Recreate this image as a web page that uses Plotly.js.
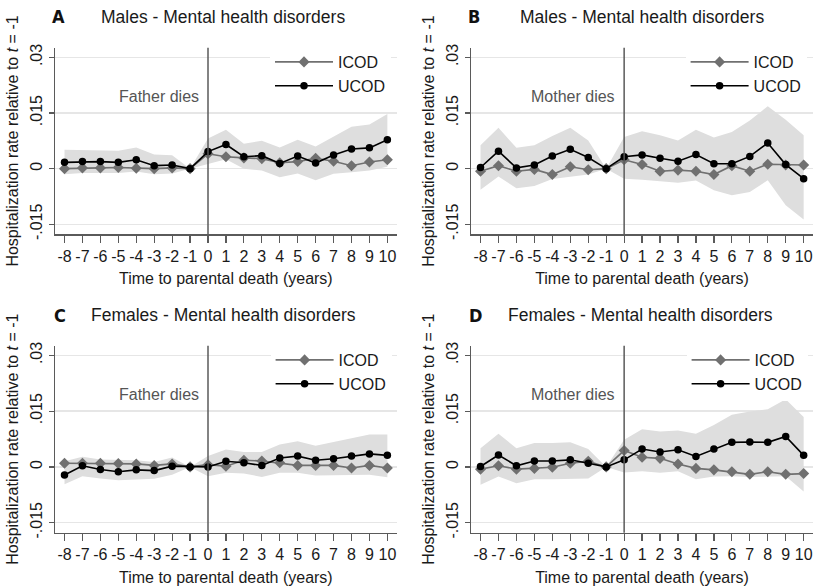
<!DOCTYPE html>
<html>
<head>
<meta charset="utf-8">
<script src="https://cdn.plot.ly/plotly-3.0.1.min.js"></script>
<style>html,body{margin:0;padding:0;background:#fff;}#chart{width:813px;height:588px;}</style>
</head>
<body>
<div id="chart"></div>
<script>
// ---- data ----
const t = [-8,-7,-6,-5,-4,-3,-2,-1,0,1,2,3,4,5,6,7,8,9,10];
const tickLabelsX = ['-8','-7','-6','-5','-4','-3','-2','-1','0','1','2','3','4','5','6','7','8','9','10'];
const tickValsY = [-0.015, 0, 0.015, 0.03];
const tickLabelsY = ['-.015', '0', '.015', '.03'];

const panelLetters = ['A','B','C','D'];
const panelTitles = ['Males - Mental health disorders','Males - Mental health disorders','Females - Mental health disorders','Females - Mental health disorders'];
const eventLabels = ['Father dies','Mother dies','Father dies','Mother dies'];
const seriesNames = ['ICOD','UCOD'];

// Panel A: males, father dies
const A_icod = [0.0000,0.0002,0.0002,0.0003,0.0001,0.0000,0.0002,0,0.0040,0.0032,0.0029,0.0027,0.0016,0.0019,0.0028,0.0020,0.0008,0.0018,0.0024];
const A_ucod = [0.0017,0.0019,0.0019,0.0017,0.0024,0.0008,0.0010,0,0.0046,0.0065,0.0032,0.0035,0.0014,0.0034,0.0015,0.0037,0.0053,0.0056,0.0078];
const A_lo   = [-0.0015,-0.0012,-0.0012,-0.0012,-0.0008,-0.0015,-0.0013,0,0.0013,0.0025,0.0000,-0.0005,-0.0023,-0.0013,-0.0031,-0.0014,-0.0010,-0.0005,0.0005];
const A_hi   = [0.0051,0.0050,0.0049,0.0048,0.0057,0.0038,0.0036,0,0.0081,0.0105,0.0067,0.0075,0.0057,0.0078,0.0060,0.0087,0.0113,0.0119,0.0147];

// Panel B: males, mother dies
const B_icod = [-0.0007,0.0008,-0.0007,-0.0002,-0.0016,0.0005,-0.0003,0,0.0024,0.0011,-0.0007,-0.0004,-0.0007,-0.0016,0.0008,-0.0007,0.0012,0.0010,0.0010];
const B_ucod = [0.0003,0.0047,0.0002,0.0010,0.0034,0.0052,0.0030,0,0.0032,0.0037,0.0028,0.0020,0.0038,0.0013,0.0013,0.0033,0.0069,0.0011,-0.0027];
const B_lo   = [-0.0057,-0.0021,-0.0053,-0.0047,-0.0028,-0.0021,-0.0016,0,-0.0027,-0.0030,-0.0035,-0.0038,-0.0032,-0.0058,-0.0072,-0.0063,-0.0031,-0.0099,-0.0137];
const B_hi   = [0.0063,0.0110,0.0056,0.0063,0.0088,0.0110,0.0076,0,0.0085,0.0101,0.0090,0.0076,0.0105,0.0084,0.0099,0.0130,0.0168,0.0132,0.0090];

// Panel C: females, father dies
const C_icod = [0.0010,0.0010,0.0010,0.0009,0.0008,0.0004,0.0008,0,0.0006,0.0002,0.0018,0.0016,0.0011,0.0004,0.0004,0.0004,-0.0003,0.0004,-0.0003];
const C_ucod = [-0.0022,0.0003,-0.0007,-0.0013,-0.0008,-0.0010,0.0002,0,0.0000,0.0015,0.0011,0.0004,0.0024,0.0029,0.0018,0.0022,0.0029,0.0035,0.0031];
const C_lo   = [-0.0047,-0.0025,-0.0031,-0.0036,-0.0034,-0.0032,-0.0021,0,-0.0025,-0.0016,-0.0018,-0.0027,-0.0016,-0.0016,-0.0023,-0.0023,-0.0023,-0.0021,-0.0028];
const C_hi   = [0.0015,0.0027,0.0020,0.0018,0.0018,0.0013,0.0025,0,0.0029,0.0047,0.0040,0.0040,0.0060,0.0069,0.0057,0.0067,0.0076,0.0087,0.0087];

// Panel D: females, mother dies
const D_icod = [-0.0006,0.0003,-0.0006,-0.0004,-0.0001,0.0010,0.0015,0,0.0044,0.0026,0.0023,0.0008,-0.0004,-0.0008,-0.0013,-0.0020,-0.0013,-0.0020,-0.0018];
const D_ucod = [0.0001,0.0032,0.0003,0.0016,0.0016,0.0019,0.0010,0,0.0019,0.0048,0.0040,0.0046,0.0028,0.0048,0.0066,0.0067,0.0066,0.0082,0.0031];
const D_lo   = [-0.0048,-0.0026,-0.0044,-0.0033,-0.0033,-0.0031,-0.0031,0,-0.0015,-0.0012,-0.0016,-0.0012,-0.0033,-0.0026,-0.0025,-0.0027,-0.0027,-0.0025,-0.0066];
const D_hi   = [0.0050,0.0089,0.0050,0.0064,0.0064,0.0066,0.0048,0,0.0073,0.0101,0.0095,0.0098,0.0089,0.0113,0.0140,0.0149,0.0155,0.0182,0.0134];

const panels = [
  {icod: A_icod, ucod: A_ucod, lo: A_lo, hi: A_hi},
  {icod: B_icod, ucod: B_ucod, lo: B_lo, hi: B_hi},
  {icod: C_icod, ucod: C_ucod, lo: C_lo, hi: C_hi},
  {icod: D_icod, ucod: D_ucod, lo: D_lo, hi: D_hi}
];

// ---- style ----
const FONT = '"Liberation Sans", Arial, sans-serif';
const W = 813, H = 588;
const xDomains = [[55/W, 396.7/W], [471/W, 1], [55/W, 396.7/W], [471/W, 1]];
const yDomains = [[1-234.3/H, 1-47.7/H], [1-234.3/H, 1-47.7/H], [1-532.7/H, 1-345.7/H], [1-532.7/H, 1-345.7/H]];
const letterPos = [[58.3, 17], [474, 17], [60, 315], [475, 315]];
const titlePos = [[223.3, 17], [642, 17], [223.7, 315], [640, 315]];
const legendPos = [[270, 45], [685.6, 45], [270.6, 343], [686.6, 343]];

const COL_ICOD = '#707070', COL_UCOD = '#000000', COL_BAND = '#dedede', COL_AXIS = '#5a5a5a';

const traces = [];
const layout = {
  width: W, height: H,
  margin: {l: 0, r: 0, t: 0, b: 0},
  paper_bgcolor: '#ffffff', plot_bgcolor: '#ffffff',
  font: {family: FONT, size: 16, color: '#1a1a1a'},
  showlegend: true,
  annotations: [], shapes: []
};

panels.forEach((p, i) => {
  const n = i + 1;
  const xa = n === 1 ? 'x' : 'x' + n;
  const ya = n === 1 ? 'y' : 'y' + n;
  const lg = n === 1 ? 'legend' : 'legend' + n;
  traces.push({x: t, y: p.lo, xaxis: xa, yaxis: ya, type: 'scatter', mode: 'lines',
    line: {width: 0, color: COL_BAND}, showlegend: false, hoverinfo: 'skip', legend: lg});
  traces.push({x: t, y: p.hi, xaxis: xa, yaxis: ya, type: 'scatter', mode: 'lines',
    line: {width: 0, color: COL_BAND}, fill: 'tonexty', fillcolor: COL_BAND, showlegend: false, hoverinfo: 'skip', legend: lg});
  traces.push({x: t, y: p.icod, xaxis: xa, yaxis: ya, type: 'scatter', mode: 'lines+markers', name: seriesNames[0],
    line: {width: 1.6, color: COL_ICOD}, marker: {symbol: 'diamond', size: 8.5, color: COL_ICOD}, legend: lg});
  traces.push({x: t, y: p.ucod, xaxis: xa, yaxis: ya, type: 'scatter', mode: 'lines+markers', name: seriesNames[1],
    line: {width: 1.6, color: COL_UCOD}, marker: {symbol: 'circle', size: 7.5, color: COL_UCOD}, legend: lg});

  const xKey = n === 1 ? 'xaxis' : 'xaxis' + n;
  const yKey = n === 1 ? 'yaxis' : 'yaxis' + n;
  layout[xKey] = {
    domain: xDomains[i], anchor: ya, range: [-8.53, 10.52],
    tickmode: 'array', tickvals: t, ticktext: tickLabelsX,
    ticks: 'outside', ticklen: 7, tickwidth: 1.2, tickcolor: COL_AXIS,
    showline: true, linecolor: COL_AXIS, linewidth: 1.3, showgrid: false, zeroline: false,
    tickfont: {size: 16, color: '#1a1a1a'},
    title: {text: 'Time to parental death (years)', font: {size: 16, color: '#1a1a1a'}, standoff: 9},
    automargin: false, fixedrange: true
  };
  layout[yKey] = {
    domain: yDomains[i], anchor: xa, range: [-0.0177, 0.0326],
    tickmode: 'array', tickvals: tickValsY, ticktext: tickLabelsY, tickangle: -90,
    ticks: 'outside', ticklen: 5, tickwidth: 1.2, tickcolor: COL_AXIS,
    showline: true, linecolor: COL_AXIS, linewidth: 1.3,
    showgrid: true, gridcolor: '#e6e6e6', gridwidth: 1.5, zeroline: false,
    tickfont: {size: 16, color: '#1a1a1a'},
    title: {text: 'Hospitalization rate relative to <i>t</i> = -1', font: {size: 16, color: '#1a1a1a'}, standoff: 5},
    automargin: false, fixedrange: true
  };
  layout[lg] = {
    x: legendPos[i][0] / W, y: 1 - legendPos[i][1] / H, xanchor: 'left', yanchor: 'top',
    bgcolor: '#ffffff', borderwidth: 0, itemwidth: 58, traceorder: 'normal',
    font: {size: 16, color: '#1a1a1a'}, tracegroupgap: 0
  };
  layout.shapes.push({type: 'line', xref: xa, yref: ya + ' domain', x0: 0, x1: 0, y0: 0, y1: 1,
    line: {color: COL_AXIS, width: 1.5}, layer: 'above'});
  layout.annotations.push({xref: xa, yref: ya, x: 0, y: 0.0195, xanchor: 'right', yanchor: 'middle', xshift: -7,
    text: eventLabels[i], showarrow: false, font: {size: 16, color: '#555555'}});
  layout.annotations.push({xref: 'paper', yref: 'paper', x: letterPos[i][0] / W, y: 1 - letterPos[i][1] / H,
    xanchor: 'center', yanchor: 'middle', text: '<b>' + panelLetters[i] + '</b>', showarrow: false,
    font: {family: '"Liberation Sans Narrow", "DejaVu Sans Condensed", Arial, sans-serif', size: 18, color: '#111111'}});
  layout.annotations.push({xref: 'paper', yref: 'paper', x: titlePos[i][0] / W, y: 1 - titlePos[i][1] / H,
    xanchor: 'center', yanchor: 'middle', text: panelTitles[i], showarrow: false,
    font: {size: 17.5, color: '#1a1a1a'}});
});

Plotly.newPlot('chart', traces, layout, {staticPlot: true, displayModeBar: false});
</script>
</body>
</html>
